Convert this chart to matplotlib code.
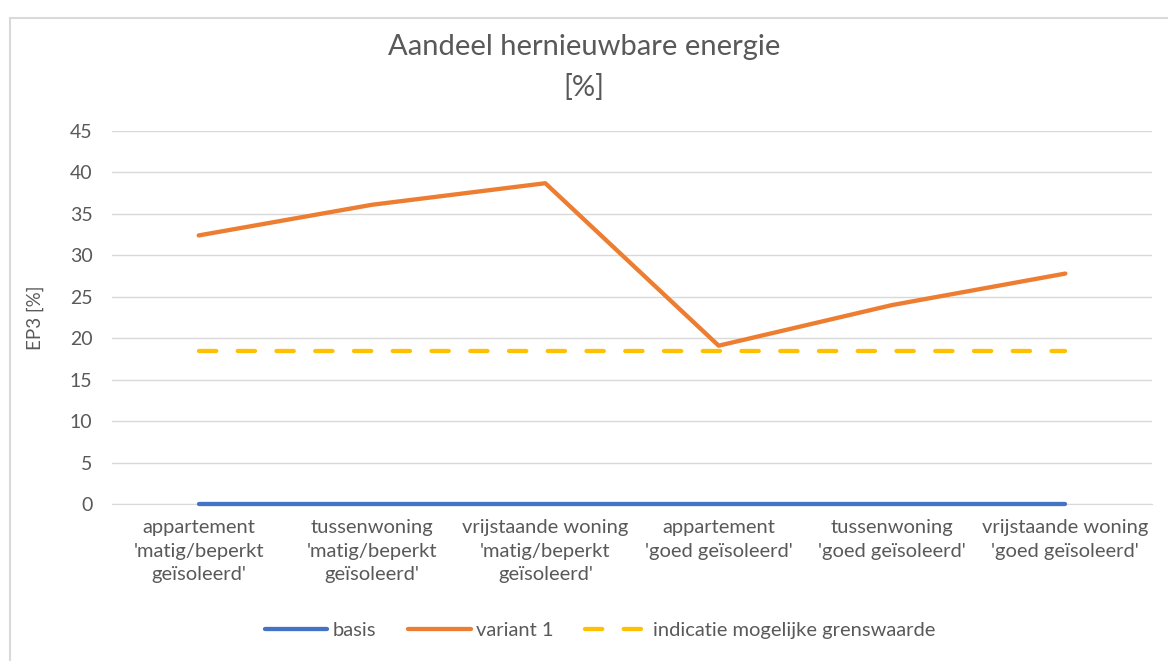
import matplotlib.pyplot as plt
from matplotlib.patches import Rectangle

plt.rcParams['font.family'] = ['Lato', 'DejaVu Sans']

categories = ["appartement\n'matig/beperkt\ngeïsoleerd'",
              "tussenwoning\n'matig/beperkt\ngeïsoleerd'",
              "vrijstaande woning\n'matig/beperkt\ngeïsoleerd'",
              "appartement\n'goed geïsoleerd'",
              "tussenwoning\n'goed geïsoleerd'",
              "vrijstaande woning\n'goed geïsoleerd'"]
basis = [0, 0, 0, 0, 0, 0]
variant1 = [32.4, 36.1, 38.7, 19.1, 24.0, 27.8]
grens = [18.5, 18.5, 18.5, 18.5, 18.5, 18.5]
yticks = [0, 5, 10, 15, 20, 25, 30, 35, 40, 45]

grey = '#595959'

fig = plt.figure(figsize=(11.68, 6.61), dpi=100)
# light chart border
fig.patches.append(Rectangle((10 / 1168, -0.1), 1.2, (661 - 18) / 661 + 0.1,
                             transform=fig.transFigure, fill=False,
                             edgecolor='#D9D9D9', linewidth=1.5))

ax = fig.add_axes([112 / 1168, 1 - 504 / 661, 1040 / 1168, 373 / 661])
x = list(range(len(categories)))

ax.plot(x, basis, color='#4472C4', lw=3.1, solid_capstyle='round', label='basis',
        zorder=3, clip_on=False)
ax.plot(x, variant1, color='#ED7D31', lw=3.1, solid_capstyle='round', label='variant 1', zorder=3)
ax.plot(x, grens, color='#FFC000', lw=3.1, linestyle=(0, (4.0, 5.0)), dash_capstyle='round',
        label='indicatie mogelijke grenswaarde', zorder=3)

ax.set_xlim(-0.5, len(categories) - 0.5)
ax.set_ylim(0, 45)
ax.set_yticks(yticks)
ax.set_xticks(x)
ax.set_xticklabels(categories, fontsize=14.5, color=grey, linespacing=1.45)
ax.tick_params(axis='y', length=0, labelsize=14, labelcolor=grey, pad=14)
ax.tick_params(axis='x', length=0, pad=11)
ax.grid(axis='y', color='#D9D9D9', linewidth=1)
ax.set_axisbelow(True)
for s in ['top', 'right', 'left']:
    ax.spines[s].set_visible(False)
ax.spines['bottom'].set_color('#D9D9D9')
ax.set_ylabel('EP3 [%]', fontsize=13.5, color=grey, va='center')
ax.yaxis.set_label_coords(-0.074, 0.5)

fig.text(0.5, 1 - 47 / 661, 'Aandeel hernieuwbare energie', ha='center', va='center',
         fontsize=21, color=grey)
fig.text(0.5, 1 - 87 / 661, '[%]', ha='center', va='center', fontsize=21, color=grey)

fig.legend(loc='center', bbox_to_anchor=(600 / 1168, 1 - 630 / 661), ncol=3, frameon=False,
           fontsize=14.5, labelcolor=grey, handlelength=3.1, columnspacing=1.6,
           handletextpad=0.25)

fig.savefig('out.png', dpi=100)
